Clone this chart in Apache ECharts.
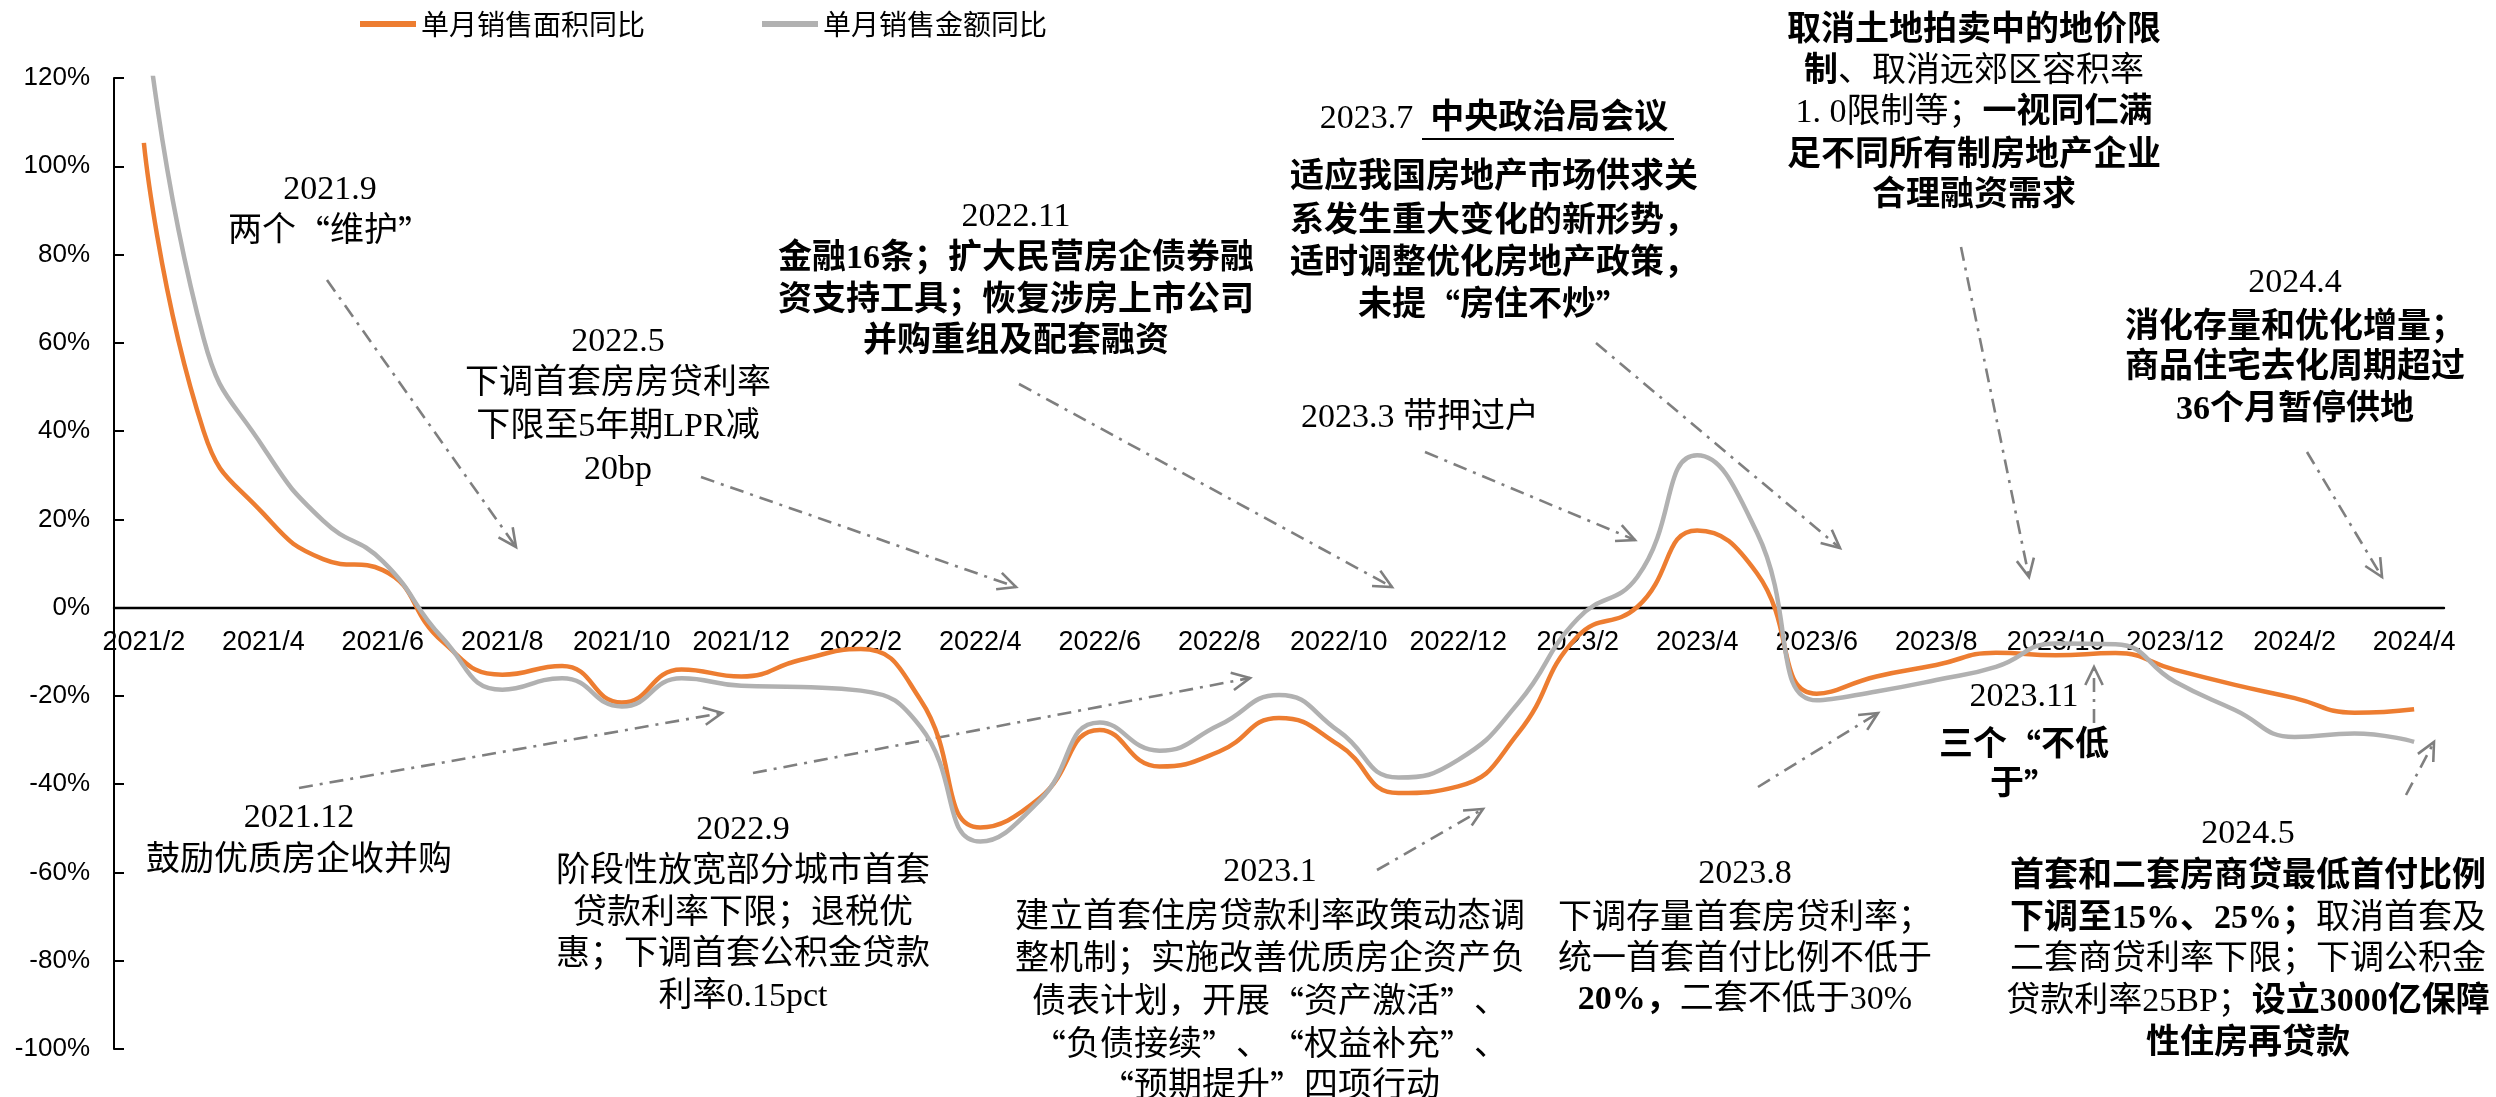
<!DOCTYPE html>
<html>
<head>
<meta charset="utf-8">
<script src="https://cdn.jsdelivr.net/npm/echarts@6/dist/echarts.min.js"></script>
<style>
  html, body { margin: 0; padding: 0; background: #fff; }
  #chart { width: 2496px; height: 1097px; }
</style>
</head>
<body>
<div id="chart"></div>
<script>
const months = [
  '2021/2', '2021/3', '2021/4', '2021/5', '2021/6', '2021/7', '2021/8', '2021/9', '2021/10', '2021/11', '2021/12',
  '2022/1', '2022/2', '2022/3', '2022/4', '2022/5', '2022/6', '2022/7', '2022/8', '2022/9', '2022/10', '2022/11', '2022/12',
  '2023/1', '2023/2', '2023/3', '2023/4', '2023/5', '2023/6', '2023/7', '2023/8', '2023/9', '2023/10', '2023/11', '2023/12',
  '2024/1', '2024/2', '2024/3', '2024/4'
]
// 单月销售面积同比 (%)
const areaYoY = [
  105.3, 40, 21.3, 11, 8.5, -7.7, -15.2, -13.2, -21.5, -14, -15.6,
  -11.8, -9.4, -20.9, -49.8, -43.1, -27.7, -36, -32.6, -25, -31.1, -42, -40.5,
  -28.5, -6.5, 0.2, 17.5, 7.8, -19.5, -15.6, -13, -10.2, -10.8, -10.3, -14.1,
  -17.5, -20.5, -23.8, -23
]
// 单月销售金额同比 (%)
const amountYoY = [
  138, 61, 36.3, 19.7, 10.5, -6.9, -18.6, -16, -22.4, -16, -17.7,
  -18, -18.8, -27, -53, -43.6, -26, -32.4, -26.6, -19.8, -28, -38.5, -34.5,
  -21.7, -2.5, 7, 34.5, 17, -21, -19, -16.4, -13.4, -8.1, -8.3, -16.8,
  -23.2, -29.3, -28.5, -30.4
]
const yTicks = { min: -100, max: 120, step: 20 }

const LATIN = '"Liberation Serif", "Noto Sans CJK SC"'
const CJK = '"Noto Sans CJK SC"'
const FS = 34
const ARROW = '#7f7f7f'

const chart = echarts.init(document.getElementById('chart'))

const richStyles = {
  r: { fontFamily: LATIN, fontSize: FS, fontWeight: 'normal', color: '#000' },
  b: { fontFamily: LATIN, fontSize: FS, fontWeight: 'bold', color: '#000' },
  rq: { fontFamily: CJK, fontSize: FS, fontWeight: 'normal', color: '#000' },
  bq: { fontFamily: CJK, fontSize: FS, fontWeight: 'bold', color: '#000' }
}

// 一行文字，parts = [[text, bold], ...]；引号用中文字体显示为全角
const textLine = (x, y, parts) => {
  let s = ''
  parts.forEach(([t, bold]) => {
    const base = bold ? 'b' : 'r'
    t.split(/([“”])/).filter(seg => seg.length).forEach(seg => {
      const key = /[“”]/.test(seg) ? base + 'q' : base
      s += `{${key}|${seg}}`
    })
  })
  return {
    type: 'text',
    x: x,
    y: y,
    silent: true,
    style: {
      text: s,
      rich: richStyles,
      align: 'center',
      verticalAlign: 'middle',
      textAlign: 'center',
      textVerticalAlign: 'middle'
    }
  }
}
const R = s => [[s, false]]
const B = s => [[s, true]]
const block = (x, ys, rows) => rows.map((r, i) => textLine(x, ys[i], r))

// 点划线箭头
const arrow = (x1, y1, x2, y2) => {
  const a = Math.atan2(y2 - y1, x2 - x1)
  const L = 20
  const w = 0.45
  return [
    {
      type: 'line',
      silent: true,
      shape: { x1, y1, x2, y2 },
      style: { stroke: ARROW, lineWidth: 2.6, lineDash: [14, 7, 3, 7] }
    },
    {
      type: 'polyline',
      silent: true,
      shape: {
        points: [
          [x2 - L * Math.cos(a - w), y2 - L * Math.sin(a - w)],
          [x2, y2],
          [x2 - L * Math.cos(a + w), y2 - L * Math.sin(a + w)]
        ]
      },
      style: { stroke: ARROW, lineWidth: 2.6, fill: null }
    }
  ]
}

const annotations = [].concat(
  block(330, [190, 232], [R('2021.9'), R('两个“维护”')]),
  block(618, [342, 384, 427, 470], [R('2022.5'), R('下调首套房房贷利率'), R('下限至5年期LPR减'), R('20bp')]),
  block(1016, [217, 259, 301, 342], [R('2022.11'), B('金融16条；扩大民营房企债券融'), B('资支持工具；恢复涉房上市公司'), B('并购重组及配套融资')]),
  block(1494, [119, 178, 222, 264, 306], [
    [['2023.7  ', false], ['中央政治局会议', true]],
    B('适应我国房地产市场供求关'), B('系发生重大变化的新形势，'), B('适时调整优化房地产政策，'), B('未提“房住不炒”')
  ]),
  [{ type: 'line', silent: true, shape: { x1: 1422, y1: 139, x2: 1674, y2: 139 }, style: { stroke: '#000', lineWidth: 2 } }],
  block(1974, [31, 72, 113, 156, 196], [
    B('取消土地拍卖中的地价限'),
    [['制', true], ['、取消远郊区容积率', false]],
    [['1. 0限制等；', false], ['一视同仁满', true]],
    B('足不同所有制房地产企业'),
    B('合理融资需求')
  ]),
  block(2295, [283, 328, 368, 410], [R('2024.4'), B('消化存量和优化增量；'), B('商品住宅去化周期超过'), B('36个月暂停供地')]),
  block(1420, [418], [R('2023.3 带押过户')]),
  block(299, [818, 861], [R('2021.12'), R('鼓励优质房企收并购')]),
  block(743, [830, 872, 914, 955, 997], [R('2022.9'), R('阶段性放宽部分城市首套'), R('贷款利率下限；退税优'), R('惠；下调首套公积金贷款'), R('利率0.15pct')]),
  block(1270, [872, 918, 960, 1003, 1046, 1087], [
    R('2023.1'), R('建立首套住房贷款利率政策动态调'), R('整机制；实施改善优质房企资产负'),
    R('债表计划，开展“资产激活”、'), R('“负债接续”、“权益补充”、'), R('“预期提升”四项行动')
  ]),
  block(1745, [874, 919, 960, 1000], [
    R('2023.8'), R('下调存量首套房贷利率；'), R('统一首套首付比例不低于'),
    [['20%，', true], ['二套不低于30%', false]]
  ]),
  block(2024, [697, 746, 785], [R('2023.11'), B('三个“不低'), B('于”')]),
  block(2248, [834, 877, 919, 960, 1002, 1044], [
    R('2024.5'),
    B('首套和二套房商贷最低首付比例'),
    [['下调至15%、25%；', true], ['取消首套及', false]],
    R('二套商贷利率下限；下调公积金'),
    [['贷款利率25BP；', false], ['设立3000亿保障', true]],
    B('性住房再贷款')
  ]),
  arrow(327, 280, 516, 547),
  arrow(701, 477, 1016, 587),
  arrow(1019, 384, 1392, 587),
  arrow(1596, 343, 1840, 548),
  arrow(1961, 247, 2029, 577),
  arrow(2307, 452, 2382, 577),
  arrow(1425, 452, 1635, 540),
  arrow(299, 788, 722, 713),
  arrow(753, 773, 1250, 678),
  arrow(1377, 870, 1483, 809),
  arrow(1758, 787, 1878, 713),
  arrow(2094, 723, 2094, 667),
  arrow(2406, 795, 2434, 742)
)

chart.setOption({
  backgroundColor: '#fff',
  animation: false,
  legend: {
    left: 355,
    top: 5,
    itemGap: 117,
    itemWidth: 56,
    itemHeight: 6,
    icon: 'rect',
    textStyle: {
      fontFamily: CJK,
      fontSize: 28,
      color: '#000'
    },
    data: ['单月销售面积同比', '单月销售金额同比']
  },
  grid: {
    left: 114,
    right: 52,
    top: 78,
    bottom: 48,
    containLabel: false
  },
  xAxis: {
    type: 'category',
    boundaryGap: true,
    data: months,
    // 轴放在 0% 处：网格高 971px，0% 距底部 441px
    offset: -441,
    axisLine: {
      onZero: false,
      lineStyle: { color: '#000', width: 2.4 }
    },
    axisTick: {
      inside: true,
      length: 8,
      interval: 1,
      lineStyle: { color: '#000', width: 2 }
    },
    axisLabel: {
      interval: 1,
      margin: 21,
      color: '#000',
      fontFamily: '"Liberation Sans"',
      fontSize: 27
    },
    splitLine: { show: false }
  },
  yAxis: {
    type: 'value',
    min: yTicks.min,
    max: yTicks.max,
    interval: yTicks.step,
    axisLine: {
      show: true,
      lineStyle: { color: '#000', width: 2 }
    },
    axisTick: {
      show: true,
      inside: true,
      length: 10,
      lineStyle: { color: '#000', width: 2 }
    },
    axisLabel: {
      margin: 24,
      color: '#000',
      fontFamily: '"Liberation Sans"',
      fontSize: 26,
      formatter: v => `${v}%`
    },
    splitLine: { show: false }
  },
  series: [
    {
      name: '单月销售面积同比',
      type: 'line',
      smooth: true,
      showSymbol: false,
      symbol: 'none',
      clip: true,
      itemStyle: { color: '#ED7D31' },
      lineStyle: { color: '#ED7D31', width: 4.5 },
      data: areaYoY
    },
    {
      name: '单月销售金额同比',
      type: 'line',
      smooth: true,
      showSymbol: false,
      symbol: 'none',
      clip: true,
      itemStyle: { color: '#B1B1B1' },
      lineStyle: { color: '#B1B1B1', width: 4.5 },
      data: amountYoY
    }
  ],
  graphic: { elements: annotations }
})
</script>
</body>
</html>
